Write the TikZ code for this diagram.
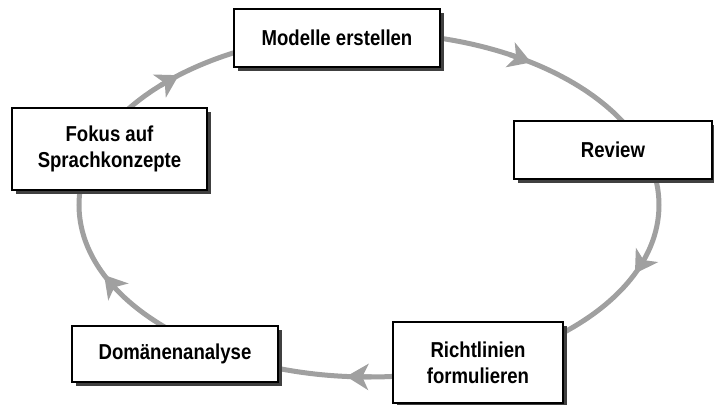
\documentclass[tikz,border=0pt]{standalone}
\usepackage{fontspec}
\setmainfont{Liberation Sans}[FakeStretch=0.86]
\usetikzlibrary{arrows.meta,shadows}
\definecolor{ringgray}{RGB}{160,160,160}
\tikzset{
	stepbox/.style={draw=black, line width=1pt, fill=white, align=center, inner sep=0pt,
		font=\bfseries\fontsize{10.8}{13}\selectfont,
		drop shadow={shadow xshift=2pt, shadow yshift=-2pt, fill=black!75, opacity=1}},
	ring/.style={draw=ringgray, line width=2.5pt},
	ringtip/.style={-{Stealth[length=11pt,width=13pt,inset=3pt]}}
}

\begin{document}
\begin{tikzpicture}[x=0.5pt,y=-0.5pt]
	\useasboundingbox (0,0) rectangle (714,405);
	
	\draw[ring] (659,205) arc[start angle=0,end angle=360,x radius=290,y radius=172] -- cycle;
	\foreach \t in {23.5,94.5,156,229,304}
		\draw[ring, ringtip] ({369+290*cos(\t-5)},{205+172*sin(\t-5)}) -- ({369+290*cos(\t)},{205+172*sin(\t)});
	
	\node[stepbox, minimum width=103pt, minimum height=29pt] (modelle) at (337,38) {Modelle erstellen};
	\node[stepbox, minimum width=99pt, minimum height=29pt] (review) at (613,150) {Review};
	\node[stepbox, minimum width=85pt, minimum height=40.5pt] (richtlinien) at (478,362.5) {Richtlinien\\formulieren};
	\node[stepbox, minimum width=103pt, minimum height=28pt] (domaenen) at (175,354) {Domänenanalyse};
	\node[stepbox, minimum width=97.5pt, minimum height=41pt] (fokus) at (109.5,149) {Fokus auf\\Sprachkonzepte};
\end{tikzpicture}
\end{document}
